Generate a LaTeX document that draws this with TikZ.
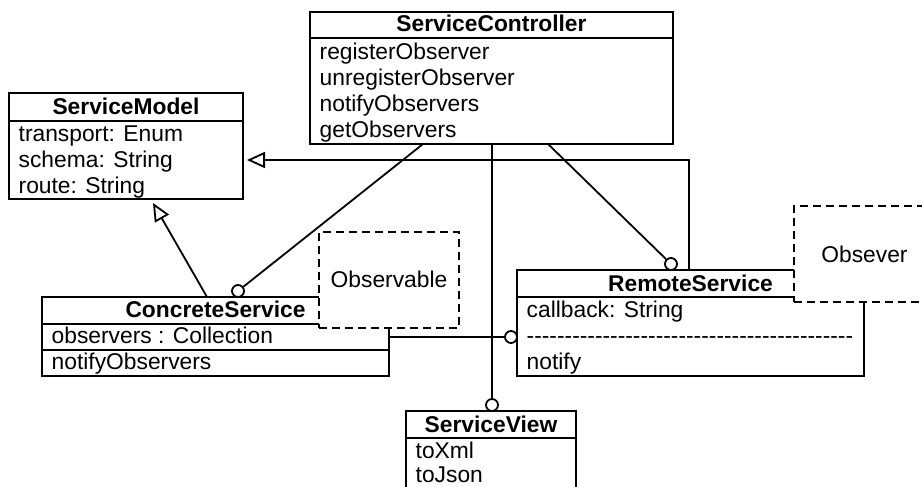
\documentclass[tikz,border=0pt]{standalone}
\usepackage{fontspec}
\setmainfont{Liberation Sans}[Ligatures=TeXOff]
\usetikzlibrary{arrows.meta}

\begin{document}
\begin{tikzpicture}[x=1pt, y=-1pt,
  classbox/.style={draw, line width=2pt, fill=white, inner sep=0pt, outer sep=0pt, anchor=north west},
  tmplbox/.style={draw, dash pattern=on 8pt off 5pt, line width=1.8pt, fill=white, inner sep=0pt, outer sep=0pt, anchor=north west},
  classname/.style={font=\bfseries\fontsize{22.8}{26}\selectfont, anchor=base, inner sep=0pt},
  member/.style={font=\fontsize{22.8}{26}\selectfont, anchor=base west, inner sep=0pt},
  tmpltext/.style={font=\fontsize{22.8}{26}\selectfont, anchor=base, inner sep=0pt},
  assoc/.style={line width=1.8pt},
  ball/.style={circle, draw, fill=white, line width=1.8pt, minimum size=12pt, inner sep=0pt},
  inherit/.style={assoc, -{Triangle[open, length=18pt, width=16pt]}},
]
\useasboundingbox (0,0) rectangle (922,487);
\clip (0,0) rectangle (922,487);

% ServiceController
\node[classbox, minimum width=363pt, minimum height=26pt] (ctrl) at (310,12) {};
\node[classbox, minimum width=363pt, minimum height=106pt] (ctrlbody) at (ctrl.south west) {};
\node[classname] (ctrlname) at (491.5,31.5) {ServiceController};
\node[member] (ctrl1) at (319.5,59.5) {registerObserver};
\node[member] (ctrl2) at (319.5,85.5) {unregisterObserver};
\node[member] (ctrl3) at (319.5,111.5) {notifyObservers};
\node[member] (ctrl4) at (319.5,137.5) {getObservers};

% ServiceModel
\node[classbox, minimum width=234pt, minimum height=28pt] (model) at (9,93) {};
\node[classbox, minimum width=234pt, minimum height=78pt] (modelbody) at (model.south west) {};
\node[classname] (modelname) at (126,114) {ServiceModel};
\node[member] (model1) at (18.5,141.5) {transport: Enum};
\node[member] (model2) at (18.5,167.5) {schema: String};
\node[member] (model3) at (18.5,193.5) {route: String};

% ConcreteService
\node[classbox, minimum width=347pt, minimum height=27pt] (cs) at (42,297) {};
\node[classbox, minimum width=347pt, minimum height=26pt] (csattr) at (cs.south west) {};
\node[classbox, minimum width=347pt, minimum height=26pt] (csops) at (csattr.south west) {};
\node[classname] (csname) at (215.5,317) {ConcreteService};
\node[member] (cs1) at (51.5,343) {observers : Collection};
\node[member] (cs2) at (51.5,369) {notifyObservers};

% RemoteService
\node[classbox, minimum width=347pt, minimum height=27pt] (rs) at (517,270) {};
\node[classbox, minimum width=347pt, minimum height=79pt] (rsbody) at (rs.south west) {};
\node[classname] (rsname) at (690.5,291.5) {RemoteService};
\node[member] (rs1) at (526.5,317) {callback: String};
\node[member] (rs2) at (526.5,343) {-------------------------------------------};
\node[member] (rs3) at (526.5,369) {notify};

% ServiceView
\node[classbox, minimum width=170pt, minimum height=27pt] (sv) at (406,411) {};
\node[classbox, minimum width=170pt, minimum height=90pt] (svbody) at (sv.south west) {};
\node[classname] (svname) at (491,432.5) {ServiceView};
\node[member] (sv1) at (415.5,458.5) {toXml};
\node[member] (sv2) at (415.5,482) {toJson};

% template parameter boxes
\node[tmplbox, minimum width=140pt, minimum height=96pt] (observable) at (319,232) {};
\node[tmpltext] (observabletext) at (389,287.5) {Observable};
\node[tmplbox, minimum width=141pt, minimum height=96pt] (observer) at (794,206) {};
\node[tmpltext] (observertext) at (864.5,262.7) {Obsever};

% ball ends of the associations
\node[ball] (ballCS) at (238,291) {};
\node[ball] (ballSV) at (492,405) {};
\node[ball] (ballRS) at (671,264) {};
\node[ball] (ballRSL) at (511,337) {};

\draw[assoc] ([xshift=113pt]ctrlbody.south west) -- (ballCS);
\draw[assoc] (ctrlbody.south -| ballSV) -- (ballSV);
\draw[assoc] ([xshift=238pt]ctrlbody.south west) -- (ballRS);
\draw[assoc] (csattr.east |- ballRSL) -- (ballRSL);

% generalizations
\coordinate (genR) at (689,270);
\coordinate (genRtip) at (247,160);
\draw[inherit] (genR) |- (genRtip);
\coordinate (genC) at (207,297);
\coordinate (genCtip) at (153,203);
\draw[inherit] (genC) -- (genCtip);
\end{tikzpicture}
\end{document}
